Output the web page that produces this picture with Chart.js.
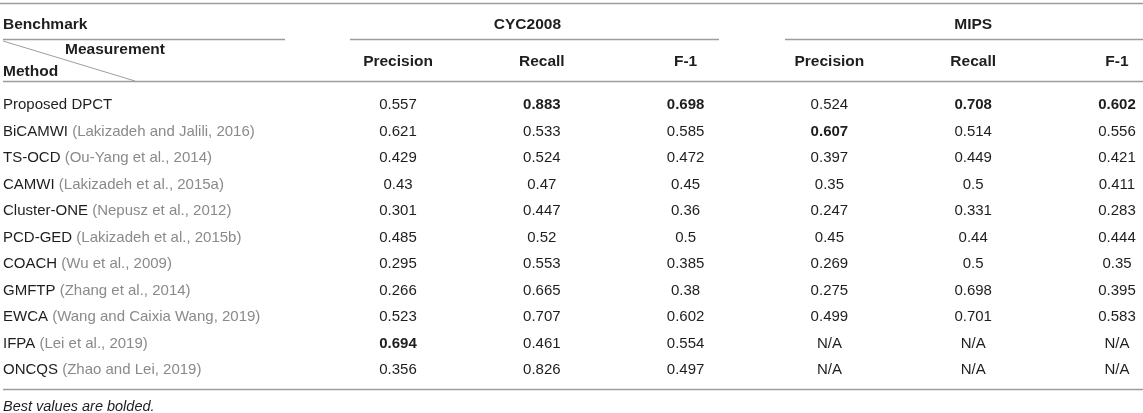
<!DOCTYPE html>
<html><head><meta charset="utf-8">
<script src="https://cdn.jsdelivr.net/npm/chart.js@4.4.1/dist/chart.umd.min.js"></script>
<style>html,body{margin:0;padding:0;background:#fff;overflow:hidden}#wrap{width:1143px;height:413px;position:relative}</style>
</head><body><div id="wrap"><canvas id="c" width="1143" height="413"></canvas></div>
<script>
// ---- data ----
const stubHeader = 'Benchmark';
const measureLabel = 'Measurement';
const methodLabel = 'Method';
const benchmarks = ['CYC2008', 'MIPS'];
const measures = ['Precision', 'Recall', 'F-1'];
const methods = ['Proposed DPCT', 'BiCAMWI', 'TS-OCD', 'CAMWI', 'Cluster-ONE', 'PCD-GED', 'COACH', 'GMFTP', 'EWCA', 'IFPA', 'ONCQS'];
const citations = ['', '(Lakizadeh and Jalili, 2016)', '(Ou-Yang et al., 2014)', '(Lakizadeh et al., 2015a)', '(Nepusz et al., 2012)', '(Lakizadeh et al., 2015b)', '(Wu et al., 2009)', '(Zhang et al., 2014)', '(Wang and Caixia Wang, 2019)', '(Lei et al., 2019)', '(Zhao and Lei, 2019)'];
const cycPrecision = [0.557, 0.621, 0.429, 0.43, 0.301, 0.485, 0.295, 0.266, 0.523, 0.694, 0.356];
const cycRecall = [0.883, 0.533, 0.524, 0.47, 0.447, 0.52, 0.553, 0.665, 0.707, 0.461, 0.826];
const cycF1 = [0.698, 0.585, 0.472, 0.45, 0.36, 0.5, 0.385, 0.38, 0.602, 0.554, 0.497];
const mipsPrecision = [0.524, 0.607, 0.397, 0.35, 0.247, 0.45, 0.269, 0.275, 0.499, null, null];
const mipsRecall = [0.708, 0.514, 0.449, 0.5, 0.331, 0.44, 0.5, 0.698, 0.701, null, null];
const mipsF1 = [0.602, 0.556, 0.421, 0.411, 0.283, 0.444, 0.35, 0.395, 0.583, null, null];
const missingText = 'N/A';
const footnote = 'Best values are bolded.';

// ---- layout (style only) ----
const FONT = '"Liberation Sans", Arial, sans-serif';
const DARK = '#1e1e1e', GRAY = '#8a8a8a', RULE = '#9d9d9d';
const TEXT_DY = 2;
const columns = [cycPrecision, cycRecall, cycF1, mipsPrecision, mipsRecall, mipsF1];
const L = { // row-unit / column-unit positions for header furniture
  topRule: -3.774, groupText: -3.019, groupRule: -2.415, measureText: -2.075,
  colText: -1.623, methodText: -1.245, headRule: -0.830, bottomRule: 10.792, foot: 11.396,
  stubEnd: 0.214, groupSpans: [[0.666, 3.232], [3.691, 99]], groupCenters: [1.9, 5.0],
  diagEndX: -0.829, measureX: -1.316
};

const datasets = columns.map((arr, c) => ({
  label: benchmarks[Math.floor(c / 3)] + ' ' + measures[c % 3],
  data: arr.map((v, i) => ({ x: c + 1, y: i, v: v })),
  pointRadius: 0, pointHoverRadius: 0, showLine: false
}));
datasets.push({
  label: 'Method',
  data: methods.map((m, i) => ({ x: -1.768, y: i, name: m, cite: citations[i] })),
  pointRadius: 0, pointHoverRadius: 0, showLine: false
});

const tablePlugin = {
  id: 'tableDraw',
  afterDatasetsDraw(chart) {
    const ctx = chart.ctx, xs = chart.scales.x, ys = chart.scales.y, area = chart.chartArea;
    const X = v => xs.getPixelForValue(v), Y = v => ys.getPixelForValue(v);
    const TY = v => Y(v) + TEXT_DY;
    ctx.save();
    ctx.textBaseline = 'middle';
    const hline = (x1, x2, yv) => {
      ctx.beginPath(); ctx.strokeStyle = RULE; ctx.lineWidth = 1.3;
      ctx.moveTo(x1, Math.round(Y(yv)) + 0.5); ctx.lineTo(x2, Math.round(Y(yv)) + 0.5); ctx.stroke();
    };
    hline(area.left, area.right, L.topRule);
    hline(area.left + 3, X(L.stubEnd), L.groupRule);
    L.groupSpans.forEach(s => hline(X(s[0]), Math.min(X(s[1]), area.right), L.groupRule));
    hline(area.left + 3, area.right, L.headRule);
    hline(area.left + 3, area.right, L.bottomRule);
    // diagonal
    ctx.beginPath(); ctx.strokeStyle = RULE; ctx.lineWidth = 1;
    ctx.moveTo(area.left + 3, Y(L.groupRule) + 2); ctx.lineTo(X(L.diagEndX), Y(L.headRule)); ctx.stroke();
    // headers
    ctx.fillStyle = DARK;
    ctx.font = 'bold 15.5px ' + FONT;
    ctx.textAlign = 'left';
    ctx.fillText(stubHeader, area.left + 3, TY(L.groupText));
    ctx.fillText(methodLabel, area.left + 3, TY(L.methodText));
    ctx.fillText(measureLabel, X(L.measureX), TY(L.measureText));
    ctx.textAlign = 'center';
    benchmarks.forEach((b, i) => ctx.fillText(b, X(L.groupCenters[i]), TY(L.groupText)));
    columns.forEach((arr, c) => ctx.fillText(measures[c % 3], X(c + 1), TY(L.colText)));
    // cells
    chart.data.datasets.forEach((ds, di) => {
      if (di < columns.length) {
        const vals = ds.data.map(p => p.v).filter(v => v != null);
        const best = Math.max.apply(null, vals);
        ds.data.forEach(p => {
          const isBest = p.v != null && p.v === best;
          ctx.font = (isBest ? 'bold ' : '') + '15px ' + FONT;
          ctx.fillStyle = DARK; ctx.textAlign = 'center';
          ctx.fillText(p.v == null ? missingText : String(p.v), X(p.x), TY(p.y));
        });
      } else {
        ds.data.forEach(p => {
          ctx.font = '15px ' + FONT; ctx.textAlign = 'left';
          const x0 = Math.max(X(p.x), area.left) + 3;
          ctx.fillStyle = DARK; ctx.fillText(p.name, x0, TY(p.y));
          if (p.cite) {
            const w = ctx.measureText(p.name + ' ').width;
            ctx.fillStyle = GRAY; ctx.fillText(p.cite, x0 + w, TY(p.y));
          }
        });
      }
    });
    ctx.font = 'italic 14.5px ' + FONT; ctx.textAlign = 'left'; ctx.fillStyle = DARK;
    ctx.fillText(footnote, area.left + 3, TY(L.foot));
    ctx.restore();
  }
};

new Chart(document.getElementById('c'), {
  type: 'scatter',
  data: { datasets },
  options: {
    responsive: false, animation: false, devicePixelRatio: 1,
    layout: { padding: 0 },
    plugins: { legend: { display: false }, tooltip: { enabled: false } },
    scales: {
      x: { type: 'linear', display: false, min: -1.768, max: 6.181 },
      y: { type: 'linear', display: false, reverse: true, min: -3.887, max: 11.698 }
    }
  },
  plugins: [tablePlugin]
});
</script></body></html>
